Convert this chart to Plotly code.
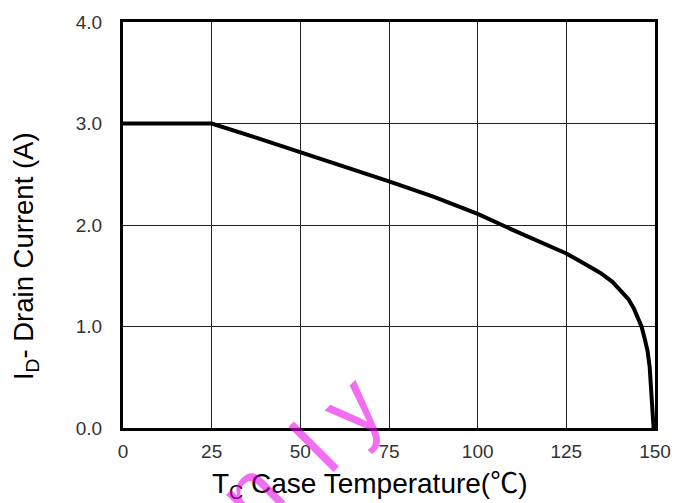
import plotly.graph_objects as go

# Data
case_temp_c = [0, 25, 37.5, 50, 62.5, 75, 87.5, 100, 110, 117.5, 125, 130, 134.5, 138,
               140.5, 142.5, 144, 145.3, 146.2, 147.1, 147.9, 148.5, 149.0, 149.3, 149.5, 149.6]
drain_current_a = [3.0, 3.0, 2.86, 2.72, 2.575, 2.43, 2.28, 2.11, 1.95, 1.83, 1.72, 1.62, 1.53, 1.44,
                   1.35, 1.27, 1.18, 1.08, 1.0, 0.88, 0.76, 0.6, 0.37, 0.2, 0.06, 0.0]

x_ticks = [0, 25, 50, 75, 100, 125, 150]
x_tick_labels = ["0", "25", "50", "75", "100", "125", "150"]
y_ticks = [0, 1, 2, 3, 4]
y_tick_labels = ["0.0", "1.0", "2.0", "3.0", "4.0"]

FONT = "Liberation Sans, Arial, Noto Sans CJK SC, sans-serif"
L, R, T, B = 123, 29, 17, 75
W, H = 684, 503
PW, PH = W - L - R, H - T - B


def px(xp):
    return (xp - L) / PW


def py(yp):
    return 1 - (yp - T) / PH


fig = go.Figure()
fig.add_trace(go.Scatter(
    x=case_temp_c, y=drain_current_a, mode="lines",
    line=dict(color="black", width=4),
    showlegend=False, hoverinfo="skip",
))

fig.update_layout(
    width=W, height=H,
    margin=dict(l=L, r=R, t=T, b=B),
    paper_bgcolor="white", plot_bgcolor="white",
    font=dict(family=FONT, color="#222222"),
    xaxis=dict(
        range=[0, 150], tickvals=x_ticks, ticktext=x_tick_labels,
        showgrid=True, gridcolor="#222222", gridwidth=1,
        showline=True, linecolor="black", linewidth=3, mirror=True,
        ticks="outside", ticklen=4, tickcolor="rgba(0,0,0,0)",
        tickfont=dict(size=19, color="#333333"), zeroline=False,
    ),
    yaxis=dict(
        range=[0, 4], tickvals=y_ticks, ticktext=y_tick_labels,
        showgrid=True, gridcolor="#222222", gridwidth=1,
        showline=True, linecolor="black", linewidth=3, mirror=True,
        ticks="outside", ticklen=14, tickcolor="rgba(0,0,0,0)",
        tickfont=dict(size=19, color="#333333"), zeroline=False,
    ),
)

# Axis titles
fig.add_annotation(
    text="T<sub>C</sub> Case Temperature(℃)", xref="paper", yref="paper",
    x=px(370), y=py(486), xanchor="center", yanchor="middle", showarrow=False,
    font=dict(size=28, color="black", family=FONT),
)
fig.add_annotation(
    text="I<sub>D</sub>- Drain Current (A)", xref="paper", yref="paper",
    x=px(25), y=py(254), xanchor="center", yanchor="middle", showarrow=False,
    textangle=-90, font=dict(size=27.5, color="black", family=FONT),
)

# Magenta watermark "Only", letter by letter
wm_letters = ["O", "n", "l", "y"]
wm_centers = [(190, 552), (250, 494), (315, 448), (351, 406)]
for ch, (cx, cy) in zip(wm_letters, wm_centers):
    fig.add_annotation(
        text=ch, xref="paper", yref="paper", x=px(cx), y=py(cy),
        xanchor="center", yanchor="middle", showarrow=False, textangle=-45,
        font=dict(size=88, color="rgba(230,0,230,0.57)", family=FONT),
    )

fig.write_html("out.html")
